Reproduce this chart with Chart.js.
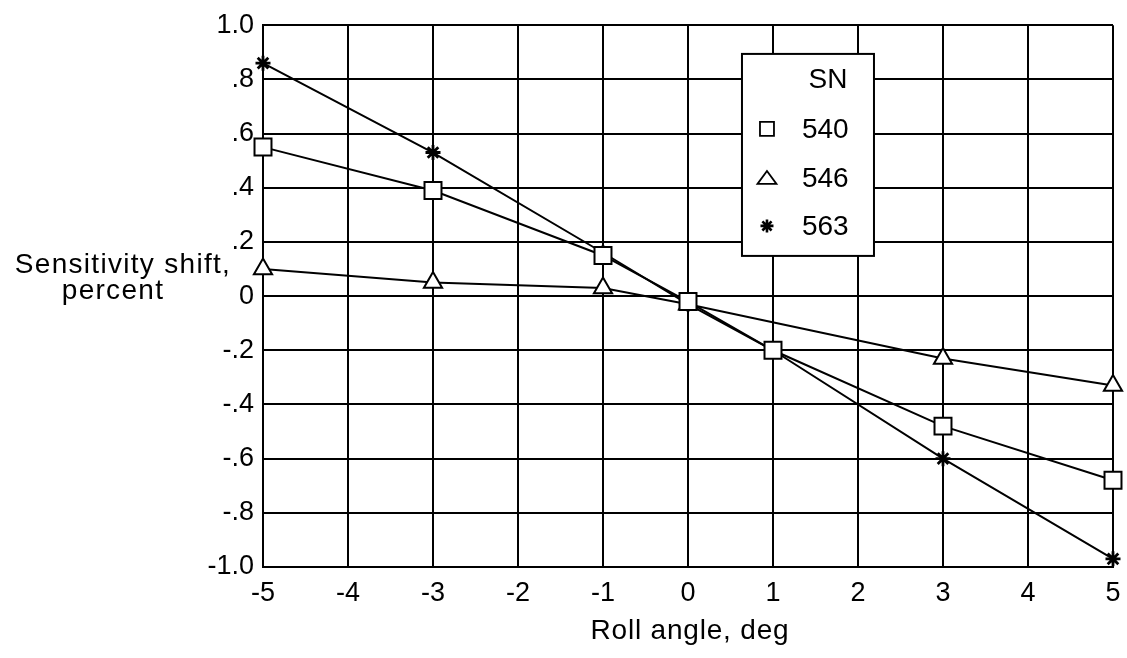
<!DOCTYPE html>
<html>
<head>
<meta charset="utf-8">
<script src="https://cdn.jsdelivr.net/npm/chart.js@4.4.1/dist/chart.umd.min.js"></script>
<style>
  html, body { margin: 0; padding: 0; background: #fff; }
</style>
</head>
<body>
<canvas id="chart" width="1127" height="658"></canvas>
<script>
// roll angle (deg) and sensitivity shift (percent) for each serial number
const angles540 = [-5, -3, -1, 0, 1, 3, 5];
const shift540 = [0.55, 0.39, 0.15, -0.02, -0.20, -0.48, -0.68];

const angles546 = [-5, -3, -1, 0, 3, 5];
const shift546 = [0.10, 0.05, 0.03, -0.03, -0.23, -0.33];

const angles563 = [-5, -3, -1, 0, 1, 3, 5];
const shift563 = [0.86, 0.53, 0.16, -0.03, -0.20, -0.60, -0.97];

const seriesNames = ['540', '546', '563'];
const xTickLabels = ['-5', '-4', '-3', '-2', '-1', '0', '1', '2', '3', '4', '5'];
const yTickLabels = ['-1.0', '-.8', '-.6', '-.4', '-.2', '0', '.2', '.4', '.6', '.8', '1.0'];

const FONT = '"Liberation Sans", Arial, Helvetica, sans-serif';

function toPoints(xs, ys) {
  return xs.map((x, i) => ({ x: x, y: ys[i] }));
}

function makeSet(label, xs, ys, style, radius, bw) {
  return {
    label: label,
    data: toPoints(xs, ys),
    borderColor: '#000',
    borderWidth: 2,
    pointStyle: style,
    pointRadius: radius,
    pointHoverRadius: radius,
    pointBackgroundColor: '#fff',
    pointBorderColor: '#000',
    pointBorderWidth: bw,
    fill: false,
    tension: 0,
    clip: false
  };
}

// axis titles drawn as plain horizontal text, like the original
const titlesPlugin = {
  id: 'titles',
  afterDraw(chart) {
    const ctx = chart.ctx;
    const area = chart.chartArea;
    ctx.save();
    ctx.fillStyle = '#000';
    ctx.font = '28px ' + FONT;
    ctx.textAlign = 'center';
    ctx.textBaseline = 'middle';
    ctx.letterSpacing = '1.3px';
    const yMid = chart.scales.y.getPixelForValue(0);
    ctx.fillText('Sensitivity shift,', 123, yMid - 31);
    ctx.fillText('percent', 113, yMid - 5);
    ctx.letterSpacing = '0.8px';
    ctx.fillText('Roll angle, deg', (area.left + area.right) / 2 + 2, 631);
    ctx.restore();
  }
};

// boxed legend inside the plot
const legendBoxPlugin = {
  id: 'legendBox',
  afterDraw(chart) {
    const ctx = chart.ctx;
    const a = chart.chartArea;
    const w = a.right - a.left, h = a.bottom - a.top;
    const left = a.left + w * 0.5635;
    const top = a.top + h * 0.053;
    const bw = 132, bh = 202;
    ctx.save();
    ctx.fillStyle = '#fff';
    ctx.fillRect(left, top, bw, bh);
    ctx.strokeStyle = '#000';
    ctx.lineWidth = 2;
    ctx.strokeRect(left, top, bw, bh);

    ctx.fillStyle = '#000';
    ctx.font = '28px ' + FONT;
    ctx.textBaseline = 'middle';
    ctx.textAlign = 'center';
    ctx.fillText('SN', left + 86, top + 26);
    ctx.textAlign = 'left';

    const rows = [top + 75, top + 124, top + 172];
    const sx = left + 25;
    seriesNames.forEach((name, i) => {
      const y = rows[i];
      ctx.fillText(name, left + 60, y + 1);
      ctx.lineWidth = 1.8;
      ctx.beginPath();
      if (i === 0) {
        ctx.rect(sx - 7, y - 7, 14, 14);
      } else if (i === 1) {
        ctx.moveTo(sx - 9.5, y + 6);
        ctx.lineTo(sx + 9.5, y + 6);
        ctx.lineTo(sx, y - 7);
        ctx.closePath();
      } else {
        for (let k = 0; k < 4; k++) {
          const ang = k * Math.PI / 4;
          ctx.moveTo(sx - 6.5 * Math.cos(ang), y - 6.5 * Math.sin(ang));
          ctx.lineTo(sx + 6.5 * Math.cos(ang), y + 6.5 * Math.sin(ang));
        }
        ctx.lineWidth = 2.6;
      }
      ctx.stroke();
    });
    ctx.restore();
  }
};

new Chart(document.getElementById('chart').getContext('2d'), {
  type: 'line',
  data: {
    datasets: [
      makeSet(seriesNames[0], angles540, shift540, 'rect', 12, 2),
      makeSet(seriesNames[1], angles546, shift546, 'triangle', 10.5, 2),
      makeSet(seriesNames[2], angles563, shift563, 'star', 7.5, 2.8)
    ]
  },
  options: {
    responsive: false,
    animation: false,
    devicePixelRatio: 1,
    layout: { padding: { top: 24, right: 14, left: 0, bottom: 0 } },
    plugins: {
      legend: { display: false },
      tooltip: { enabled: false }
    },
    scales: {
      x: {
        type: 'linear',
        min: -5,
        max: 5,
        afterFit(scale) {
          scale.height = 91;
          scale.paddingLeft = 0;
          scale.paddingRight = 0;
        },
        ticks: {
          stepSize: 1,
          color: '#000',
          padding: 10,
          maxRotation: 0,
          font: { family: FONT, size: 27 },
          callback: (v, i) => xTickLabels[i]
        },
        grid: { color: '#000', lineWidth: 2, drawTicks: false },
        border: { color: '#000', width: 2 }
      },
      y: {
        type: 'linear',
        min: -1,
        max: 1,
        afterFit(scale) { scale.width = 263; },
        ticks: {
          stepSize: 0.2,
          color: '#000',
          padding: 9,
          font: { family: FONT, size: 27 },
          callback: (v, i) => yTickLabels[i]
        },
        grid: { color: '#000', lineWidth: 2, drawTicks: false },
        border: { color: '#000', width: 2 }
      }
    }
  },
  plugins: [titlesPlugin, legendBoxPlugin]
});
</script>
</body>
</html>
